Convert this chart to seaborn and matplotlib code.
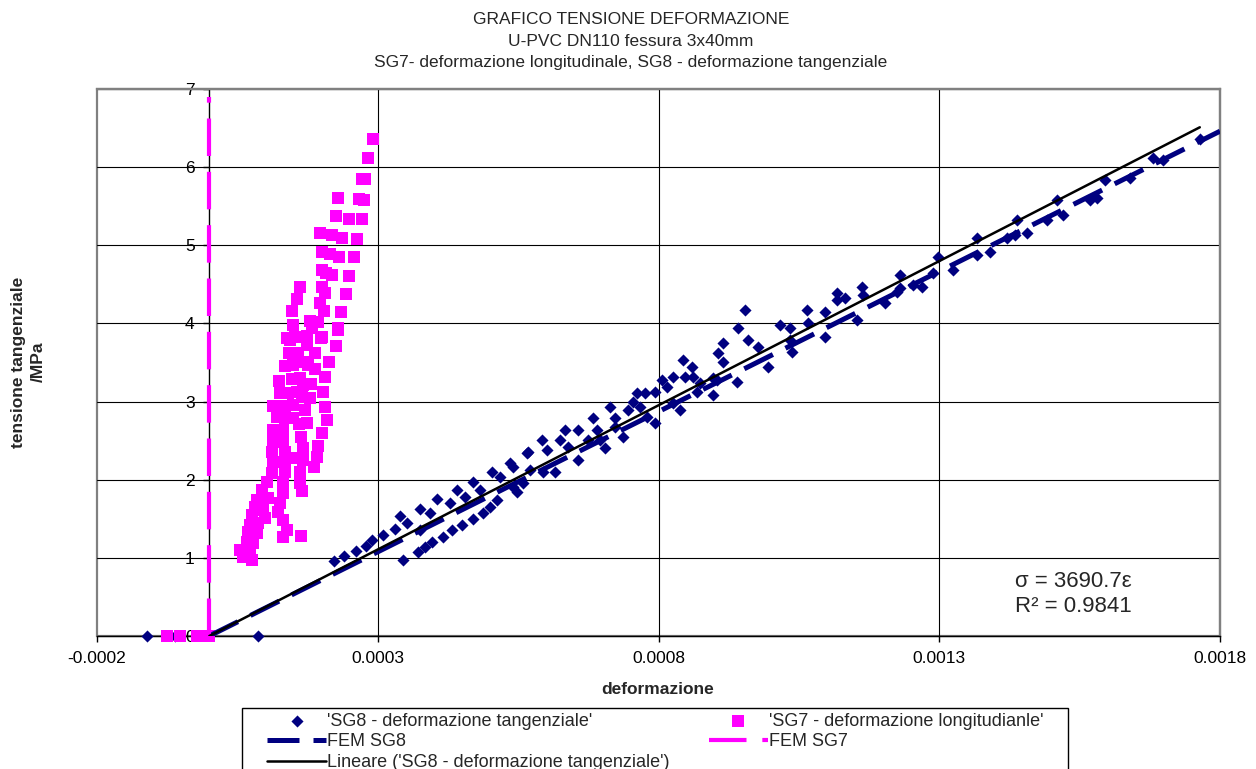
import matplotlib
matplotlib.use("Agg")
import matplotlib.pyplot as plt
import seaborn as sns
from matplotlib.patches import Rectangle

# ---------------- data ----------------
# SG8 - deformazione tangenziale (strain, stress MPa)
sg8_x = [-111e-6, -61e-6, 87e-6, 222e-6, 240e-6, 261e-6, 279e-6, 290e-6, 309e-6, 331e-6, 340e-6, 352e-6,
         345e-6, 372e-6, 384e-6, 397e-6, 375e-6, 393e-6, 375e-6, 406e-6, 416e-6, 432e-6, 429e-6, 441e-6,
         450e-6, 470e-6, 470e-6, 487e-6, 503e-6, 455e-6, 482e-6, 518e-6, 536e-6, 500e-6, 512e-6, 541e-6,
         559e-6, 566e-6, 548e-6, 541e-6, 568e-6, 571e-6, 593e-6, 601e-6, 594e-6, 616e-6, 625e-6, 634e-6,
         639e-6, 657e-6, 657e-6, 674e-6, 683e-6, 690e-6, 696e-6, 705e-6, 714e-6, 723e-6, 723e-6, 737e-6,
         746e-6, 755e-6, 762e-6, 767e-6, 776e-6, 780e-6, 794e-6, 794e-6, 806e-6, 815e-6, 826e-6, 826e-6,
         838e-6, 844e-6, 847e-6, 860e-6, 861e-6, 869e-6, 897e-6, 904e-6, 906e-6, 874e-6, 897e-6, 915e-6,
         915e-6, 940e-6, 942e-6, 954e-6, 959e-6, 977e-6, 995e-6, 1016e-6, 1034e-6, 1038e-6, 1034e-6,
         1065e-6, 1066e-6, 1097e-6, 1097e-6, 1118e-6, 1118e-6, 1132e-6, 1154e-6, 1162e-6, 1164e-6,
         1203e-6, 1225e-6, 1230e-6, 1253e-6, 1230e-6, 1269e-6, 1289e-6, 1298e-6, 1324e-6, 1367e-6,
         1367e-6, 1390e-6, 1421e-6, 1435e-6, 1438e-6, 1456e-6, 1492e-6, 1510e-6, 1520e-6, 1568e-6,
         1581e-6, 1595e-6, 1640e-6, 1681e-6, 1698e-6, 1764e-6]
sg8_y = [0.0, 0.0, 0.0, 0.960, 1.024, 1.088, 1.152, 1.229, 1.293, 1.369, 1.536, 1.446,
         0.973, 1.075, 1.139, 1.203, 1.625, 1.574, 1.357, 1.753, 1.267, 1.357, 1.702, 1.868,
         1.421, 1.497, 1.971, 1.574, 2.099, 1.779, 1.868, 2.035, 2.214, 1.651, 1.740, 1.907,
         1.958, 2.342, 1.843, 2.163, 2.355, 2.124, 2.508, 2.380, 2.099, 2.099, 2.508, 2.636,
         2.419, 2.636, 2.252, 2.508, 2.790, 2.636, 2.508, 2.406, 2.931, 2.790, 2.675, 2.547,
         2.892, 2.995, 3.110, 2.931, 3.110, 2.803, 3.123, 2.726, 3.276, 3.187, 3.315, 2.982,
         2.892, 3.532, 3.315, 3.443, 3.315, 3.123, 3.084, 3.276, 3.622, 3.238, 3.302, 3.750,
         3.507, 3.251, 3.942, 4.172, 3.788, 3.698, 3.443, 3.980, 3.942, 3.634, 3.788,
         4.172, 4.006, 4.146, 3.827, 4.390, 4.300, 4.326, 4.044, 4.466, 4.364,
         4.262, 4.402, 4.620, 4.492, 4.454, 4.466, 4.645, 4.850, 4.684, 5.093,
         4.876, 4.914, 5.093, 5.132, 5.324, 5.157, 5.324, 5.580, 5.388, 5.580,
         5.605, 5.836, 5.861, 6.117, 6.092, 6.360]

# SG7 - deformazione longitudinale
sg7_x = [-75e-6, -52e-6, -22e-6, 0.0,
         292e-6, 283e-6, 272e-6, 277e-6, 229e-6, 267e-6, 276e-6, 226e-6, 249e-6, 272e-6, 197e-6, 219e-6,
         236e-6, 263e-6, 201e-6, 215e-6, 231e-6, 258e-6, 201e-6, 208e-6, 219e-6, 249e-6, 162e-6, 201e-6,
         206e-6, 243e-6, 156e-6, 197e-6, 204e-6, 235e-6, 147e-6, 149e-6, 179e-6, 194e-6, 229e-6, 183e-6,
         174e-6, 201e-6, 153e-6, 138e-6,
         229e-6, 199e-6, 226e-6, 144e-6, 156e-6, 174e-6, 142e-6, 158e-6, 188e-6, 170e-6, 213e-6, 135e-6,
         149e-6, 188e-6, 176e-6, 206e-6, 124e-6, 147e-6, 162e-6, 181e-6, 167e-6, 202e-6, 126e-6, 140e-6,
         156e-6, 179e-6, 165e-6, 113e-6, 135e-6, 149e-6, 170e-6, 206e-6, 121e-6, 135e-6, 149e-6, 174e-6,
         160e-6, 210e-6, 113e-6, 131e-6, 163e-6, 201e-6, 113e-6, 131e-6, 167e-6, 194e-6, 112e-6, 135e-6,
         153e-6, 167e-6, 192e-6, 113e-6, 135e-6, 186e-6, 112e-6, 135e-6, 162e-6, 103e-6, 131e-6, 162e-6,
         94e-6, 131e-6, 165e-6, 85e-6, 105e-6, 126e-6, 81e-6, 96e-6, 122e-6, 76e-6, 99e-6, 131e-6,
         72e-6, 87e-6, 138e-6, 69e-6, 85e-6, 131e-6, 163e-6, 67e-6, 78e-6, 55e-6, 72e-6, 60e-6, 76e-6]
sg7_y = [0.0, 0.0, 0.0, 0.0,
         6.360, 6.117, 5.848, 5.848, 5.605, 5.593, 5.580, 5.375, 5.337, 5.337, 5.157, 5.132,
         5.093, 5.081, 4.914, 4.889, 4.850, 4.850, 4.684, 4.645, 4.620, 4.607, 4.466, 4.466,
         4.390, 4.377, 4.313, 4.262, 4.159, 4.146, 4.159, 3.980, 4.031, 4.018, 3.942, 3.942,
         3.839, 3.827, 3.827, 3.814,
         3.916, 3.814, 3.711, 3.788, 3.827, 3.724, 3.622, 3.622, 3.622, 3.507, 3.507, 3.455,
         3.468, 3.417, 3.468, 3.315, 3.263, 3.289, 3.302, 3.225, 3.212, 3.123, 3.110, 3.110,
         3.123, 3.046, 3.059, 2.943, 2.943, 2.956, 2.892, 2.931, 2.803, 2.790, 2.790, 2.726,
         2.713, 2.764, 2.636, 2.636, 2.547, 2.598, 2.496, 2.483, 2.406, 2.432, 2.355, 2.355,
         2.278, 2.252, 2.291, 2.227, 2.201, 2.163, 2.086, 2.099, 2.099, 1.971, 1.971, 1.958,
         1.868, 1.830, 1.856, 1.740, 1.766, 1.702, 1.651, 1.612, 1.587, 1.548, 1.510, 1.485,
         1.421, 1.446, 1.357, 1.331, 1.318, 1.267, 1.280, 1.203, 1.190, 1.101, 1.075, 1.011, 0.973]

# FEM results and linear trend
fem8_x = [0.0, 0.0018]
fem8_y = [0.0, 6.46]
fem7_x = [0.0, 0.0]
fem7_y = [0.0, 6.9]
trend_x = [0.0, 0.001764]
trend_y = [0.0, 6.51]

x_ticks = [-0.0002, 0.0003, 0.0008, 0.0013, 0.0018]
x_tick_labels = ["-0.0002", "0.0003", "0.0008", "0.0013", "0.0018"]
y_ticks = [0, 1, 2, 3, 4, 5, 6, 7]

lab_sg8 = "'SG8 - deformazione tangenziale'"
lab_sg7 = "'SG7 - deformazione longitudianle'"
lab_fem8 = "FEM SG8"
lab_fem7 = "FEM SG7"
lab_trend = "Lineare ('SG8 - deformazione tangenziale')"

# ---------------- style ----------------
sns.set_theme(style="white")
plt.rcParams["font.family"] = ["Liberation Sans", "DejaVu Sans"]

W, H = 1256, 769
fig = plt.figure(figsize=(W / 100, H / 100), dpi=100)
fig.patch.set_facecolor("white")
ax = fig.add_axes([97 / W, 1 - 636 / H, (1220 - 97) / W, (636 - 89) / H])
ax.set_facecolor("white")

NAVY = "#000080"
MAG = "#FF00FF"

sns.scatterplot(x=sg8_x, y=sg8_y, marker="D", s=38, color=NAVY, linewidth=0,
                ax=ax, zorder=4, clip_on=False, label=lab_sg8)
sns.lineplot(x=fem8_x, y=fem8_y, estimator=None, sort=False, color=NAVY, lw=3.6,
             ax=ax, zorder=5, label=lab_fem8)
l_fem8 = ax.lines[-1]
l_fem8.set_dashes((6.4, 2.8))
l_fem8.set_dash_capstyle("butt")
sns.lineplot(x=trend_x, y=trend_y, estimator=None, sort=False, color="black", lw=1.8,
             ax=ax, zorder=6, label=lab_trend)
sns.scatterplot(x=sg7_x, y=sg7_y, marker="s", s=68, color=MAG, linewidth=0,
                ax=ax, zorder=4, clip_on=False, label=lab_sg7)
sns.lineplot(x=fem7_x, y=fem7_y, estimator=None, sort=False, color=MAG, lw=3.0,
             ax=ax, zorder=5, label=lab_fem7)
l_fem7 = ax.lines[-1]
l_fem7.set_dashes((9.0, 3.8))
l_fem7.set_dash_capstyle("butt")

ax.set_xlim(-0.0002, 0.0018)
ax.set_ylim(0, 7)
ax.set_xticks(x_ticks)
ax.set_xticklabels(x_tick_labels)
ax.set_yticks(y_ticks)
ax.set_yticklabels([str(v) for v in y_ticks])
ax.set_xlabel("")
ax.set_ylabel("")

ax.grid(True, color="black", lw=0.8)
ax.set_axisbelow(True)
xg = ax.xaxis.get_gridlines()
xg[0].set_visible(False)
xg[-1].set_visible(False)
yg = ax.yaxis.get_gridlines()
yg[-1].set_visible(False)

for s in ["top", "right"]:
    ax.spines[s].set_color("#808080")
    ax.spines[s].set_linewidth(1.6)
ax.spines["bottom"].set_color("black")
ax.spines["bottom"].set_linewidth(1.0)
ax.spines["left"].set_position(("data", 0))
ax.spines["left"].set_color("black")
ax.spines["left"].set_linewidth(1.0)
ax.add_patch(Rectangle((0, 0), 1, 1, transform=ax.transAxes, fill=False,
                       edgecolor="#808080", lw=1.6, clip_on=False, zorder=0.5))

ax.tick_params(axis="both", direction="out", length=4, width=1, color="black",
               labelsize=12.5, labelcolor="black")
ax.tick_params(axis="x", pad=7, bottom=True)
ax.tick_params(axis="y", pad=6.5, left=True)

# titles and labels
fig.text(631 / W, 1 - 19 / H, "GRAFICO TENSIONE DEFORMAZIONE", ha="center", va="center", fontsize=12.5)
fig.text(631 / W, 1 - 41 / H, "U-PVC DN110 fessura 3x40mm", ha="center", va="center", fontsize=12.5)
fig.text(631 / W, 1 - 63 / H, "SG7- deformazione longitudinale, SG8 - deformazione tangenziale",
         ha="center", va="center", fontsize=12.5)
fig.text(658 / W, 1 - 690 / H, "deformazione", ha="center", va="center",
         fontsize=12.5, fontweight="bold")
fig.text(28 / W, 1 - 362 / H, "tensione tangenziale\n/MPa", ha="center", va="center",
         rotation=90, fontsize=12.5, fontweight="bold", multialignment="center",
         linespacing=1.4)
fig.text(1015 / W, 1 - 594 / H, "\u03c3 = 3690.7\u03b5\nR\u00b2 = 0.9841", ha="left", va="center",
         fontsize=16, linespacing=1.2)

# legend frame drawn separately (extends beyond the bottom of the figure)
fig.add_artist(Rectangle((242 / W, -0.02), (1068 - 242) / W, 0.02 + (769 - 708) / H,
                         transform=fig.transFigure, facecolor="white", edgecolor="black",
                         lw=1.0, zorder=-1))

handles, labels = ax.get_legend_handles_labels()
order = [lab_sg8, lab_fem8, lab_trend, lab_sg7, lab_fem7]
hmap = dict(zip(labels, handles))
leg = ax.legend([hmap[k] for k in order], order, ncol=2, loc="upper left",
                bbox_to_anchor=(264 / W, 1 - 710 / H), bbox_transform=fig.transFigure,
                frameon=False, fontsize=13, handlelength=3.3, handletextpad=0.05,
                columnspacing=2.15, labelspacing=0.2, borderpad=0.15, borderaxespad=0,
                scatterpoints=1)
leg.set_zorder(10)

fig.savefig("out.png", dpi=100)
